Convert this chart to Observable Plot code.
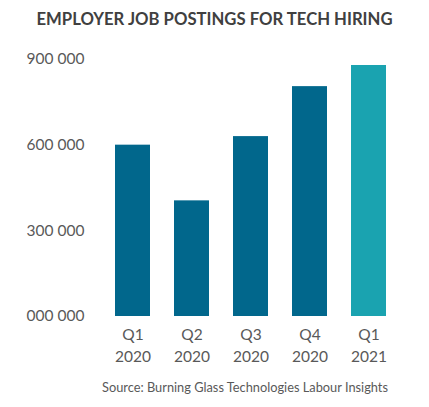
<!DOCTYPE html>
<html>
<head>
<meta charset="utf-8">
<script src="https://cdn.jsdelivr.net/npm/d3@7"></script>
<script src="https://cdn.jsdelivr.net/npm/@observablehq/plot@0.6"></script>
<style>
  body { margin: 0; background: #fff; font-family: Lato, "Open Sans", sans-serif; }
  #wrap { width: 429px; }
  #title { height: 38px; line-height: 38px; text-align: center; font-weight: 700; font-size: 16.7px; color: #404040; }
  #source { height: 18px; line-height: 18px; text-align: right; padding-right: 41px; font-size: 12.8px; color: #595959; }
</style>
</head>
<body>
<div id="wrap">
  <div id="title">EMPLOYER JOB POSTINGS FOR TECH HIRING</div>
  <div id="chart"></div>
  <div id="source">Source: Burning Glass Technologies Labour Insights</div>
</div>
<script>
const periods = ["Q1 2020", "Q2 2020", "Q3 2020", "Q4 2020", "Q1 2021"];
const postings = [600000, 405000, 630000, 805000, 879000];
const yTicks = [0, 300000, 600000, 900000];
const yTickLabels = ["000 000", "300 000", "600 000", "900 000"];
const latest = "Q1 2021";

const rows = periods.map((p, i) => ({ period: p, value: postings[i] }));

const plot = Plot.plot({
  width: 429,
  height: 340,
  marginTop: 21,
  marginBottom: 62,
  marginLeft: 101,
  marginRight: 30,
  style: { fontFamily: "Lato, 'Open Sans', sans-serif", fontSize: "15.5px", color: "#595959" },
  x: { domain: periods, paddingInner: 0.41, paddingOuter: 0.2 },
  y: { domain: [0, 900000] },
  marks: [
    Plot.barY(rows, {
      x: "period",
      y: "value",
      fill: d => d.period === latest ? "#1aa3b0" : "#01678c"
    }),
    Plot.axisY({
      ticks: yTicks,
      tickFormat: d => yTickLabels[yTicks.indexOf(d)],
      tickSize: 0,
      tickPadding: 17,
      label: null
    }),
    Plot.axisX({
      tickFormat: d => d.split(" ")[0],
      tickSize: 0,
      tickPadding: 12,
      label: null
    }),
    Plot.axisX({
      tickFormat: d => d.split(" ")[1],
      tickSize: 0,
      tickPadding: 34,
      label: null
    })
  ]
});
document.getElementById("chart").append(plot);
</script>
</body>
</html>
